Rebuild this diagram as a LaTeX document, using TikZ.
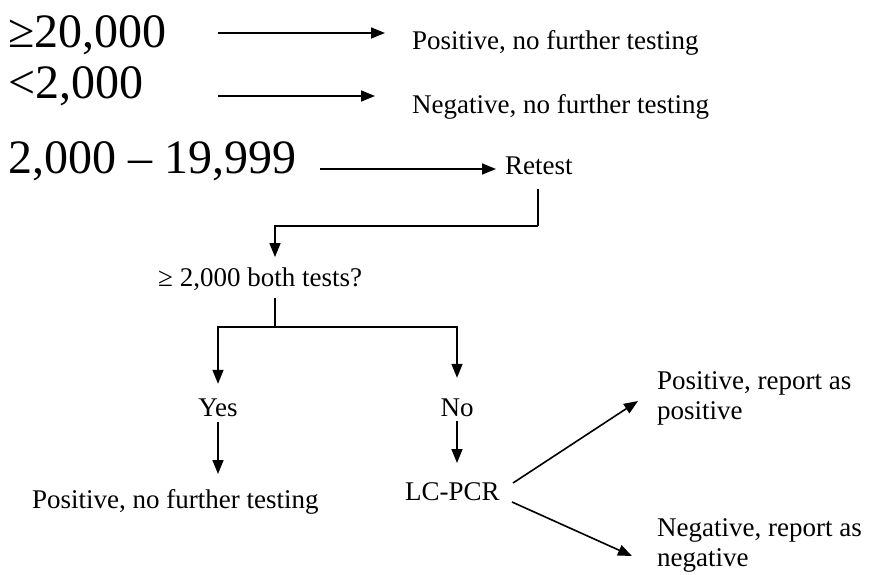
\documentclass[tikz,border=0pt]{standalone}
\usepackage{fontspec}
\setmainfont{Liberation Serif}
\usetikzlibrary{arrows.meta, positioning}

\begin{document}
\begin{tikzpicture}[x=1pt, y=-1pt]
	\tikzset{
		big/.style={inner sep=0pt, anchor=base west, font=\fontsize{48}{50}\selectfont},
		txt/.style={inner sep=0pt, font=\fontsize{27}{30}\selectfont},
		connect/.style={-{Triangle[length=14pt, width=11pt]}, line width=1.6pt},
		plain/.style={line width=1.6pt}
	}
	\useasboundingbox (0,0) rectangle (870,575);

	% thresholds
	\node[big] (high) at (8,48) {≥20,000};
	\node[big] (low) at (8,99) {<2,000};
	\node[big] (mid) at (8,174) {2,000 – 19,999};
	\node[txt, anchor=base west] (pos1) at (412,50) {Positive, no further testing};
	\node[txt, anchor=base west] (neg1) at (412,114) {Negative, no further testing};
	\node[txt, anchor=base west] (retest) at (505,175) {Retest};

	% retest branch
	\node[txt, anchor=base west] (both) at (158,286) {≥ 2,000 both tests?};
	\node[txt] (yes) at (218,408) {Yes};
	\node[txt] (no) at (457,408) {No};
	\node[txt, anchor=base west] (pos2) at (32,508) {Positive, no further testing};
	\node[txt, anchor=base west] (lcpcr) at (405,500) {LC-PCR};
	\node[txt, anchor=north west, align=left] (posrep) at (657,371) {Positive, report as\\positive};
	\node[txt, anchor=north west, align=left] (negrep) at (657,518) {Negative, report as\\negative};

	\coordinate (s1) at (218,33);
	\coordinate (t1) at (385,33);
	\coordinate (s2) at (218,96);
	\coordinate (t2) at (375,96);
	\coordinate (s3) at (320,169);
	\coordinate (t3) at (496,169);
	\coordinate (join) at (538,226);
	\coordinate (split) at (275,327);

	\draw[connect] (s1) -- (t1);
	\draw[connect] (s2) -- (t2);
	\draw[connect] (s3) -- (t3);
	\draw[plain] (join |- 0,189) -- (join);
	\draw[connect] (join) -| ([xshift=117pt, yshift=10pt]both.north west);
	\draw[plain] (split |- 0,298) -- (split);
	\draw[connect] (split) -| ([yshift=15pt]yes.north);
	\draw[connect] (split) -| ([yshift=21pt]no.north);
	\draw[connect] ([yshift=-5pt]yes.south) -- (yes.south |- 0,474);
	\draw[connect] ([yshift=-4pt]no.south) -- (no.south |- 0,463);
	\draw[connect] (513,483) -- (638,401);
	\draw[connect] (512,502) -- (632,556);
\end{tikzpicture}
\end{document}
